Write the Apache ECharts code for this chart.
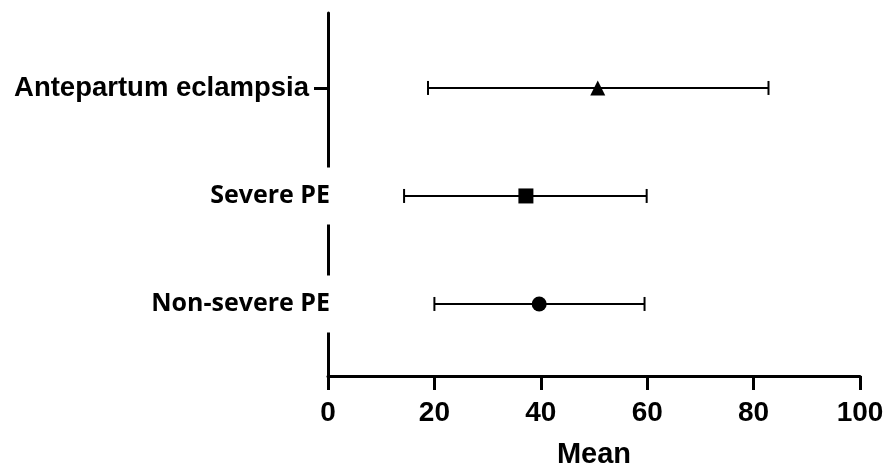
<!DOCTYPE html>
<html>
<head>
<meta charset="utf-8">
<script src="https://cdn.jsdelivr.net/npm/echarts@6/dist/echarts.min.js"></script>
<style>html,body{margin:0;padding:0;background:#fff;}#chart{width:884px;height:465px;}</style>
</head>
<body>
<div id="chart"></div>
<script>
const categories = ['Non-severe PE', 'Severe PE', 'Antepartum eclampsia'];
const means = [39.7, 37.2, 50.7];
const lowerCI = [20.0, 14.3, 18.8];
const upperCI = [59.5, 59.9, 82.8];
const xAxisTitle = 'Mean';

const markerShapes = ['circle', 'rect', 'triangle'];
const rowPos = categories.map((c, i) => i + 1);

const chart = echarts.init(document.getElementById('chart'), null, {renderer: 'canvas'});

const errData = categories.map((c, i) => [lowerCI[i], upperCI[i], rowPos[i]]);
const meanData = categories.map((c, i) => ({value: [means[i], rowPos[i]], symbol: markerShapes[i]}));

const option = {
  animation: false,
  backgroundColor: '#fff',
  grid: {left: 328, right: 24, top: 13, bottom: 89, containLabel: false, outerBoundsMode: 'none'},
  xAxis: {
    type: 'value', min: 0, max: 100, interval: 20,
    name: xAxisTitle, nameLocation: 'middle', nameGap: 64,
    nameTextStyle: {fontFamily: 'Liberation Sans, Arial', fontWeight: 'bold', fontSize: 29, color: '#000'},
    axisLine: {show: true, lineStyle: {color: '#000', width: 3}},
    axisTick: {show: true, length: 14, lineStyle: {color: '#000', width: 3}},
    axisLabel: {margin: 23, fontFamily: 'Liberation Sans, Arial', fontWeight: 'bold', fontSize: 28, color: '#000'},
    splitLine: {show: false}
  },
  yAxis: {
    type: 'value', min: 1 - 0.667, max: 3.694,
    axisLine: {show: true, lineStyle: {color: '#000', width: 3}},
    axisTick: {show: true, length: 14, customValues: rowPos, lineStyle: {color: '#000', width: 3}},
    axisLabel: {
      margin: -3,
      customValues: rowPos,
      formatter: function (v) {
        const idx = Math.round(v) - 1;
        const name = categories[idx] || '';
        return idx === 2 ? '{a|' + name + '}' : '{b|' + name + '}';
      },
      rich: {
        a: {fontFamily: 'Liberation Sans, Arial', fontWeight: 'bold', fontSize: 27.5, color: '#000', padding: [0, 22, 0, 0]},
        b: {fontFamily: 'Open Sans', fontWeight: 'bold', fontSize: 25, lineHeight: 25, color: '#000', backgroundColor: '#fff', padding: [16, 1, 16, 4]}
      }
    },
    splitLine: {show: false}
  },
  series: [
    {
      type: 'custom',
      data: errData,
      renderItem: function (params, api) {
        const y = api.value(2);
        const p1 = api.coord([api.value(0), y]);
        const p2 = api.coord([api.value(1), y]);
        const h = 7;
        const st = {stroke: '#000', lineWidth: 2, fill: null};
        return {
          type: 'group',
          children: [
            {type: 'line', shape: {x1: p1[0], y1: p1[1], x2: p2[0], y2: p2[1]}, style: st},
            {type: 'line', shape: {x1: p1[0], y1: p1[1] - h, x2: p1[0], y2: p1[1] + h}, style: st},
            {type: 'line', shape: {x1: p2[0], y1: p2[1] - h, x2: p2[0], y2: p2[1] + h}, style: st}
          ]
        };
      },
      z: 2
    },
    {
      type: 'scatter',
      data: meanData,
      symbolSize: 15,
      itemStyle: {color: '#000', opacity: 1},
      z: 3
    }
  ]
};
chart.setOption(option);
</script>
</body>
</html>
